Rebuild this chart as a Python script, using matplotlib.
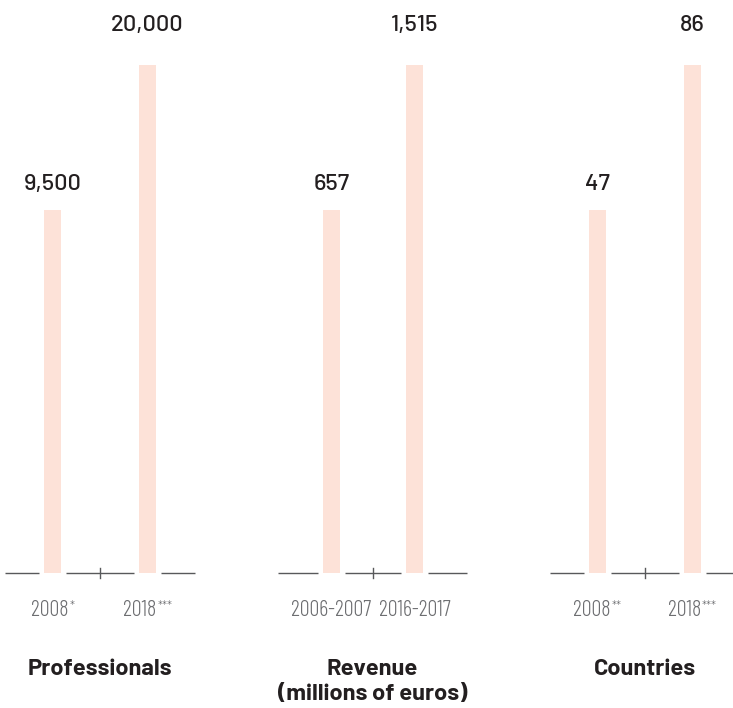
import matplotlib
matplotlib.use("Agg")
import matplotlib.pyplot as plt

# data
categories = ["Professionals", "Revenue\n(millions of euros)", "Countries"]
periods = [["2008", "2018"], ["2006-2007", "2016-2017"], ["2008", "2018"]]
stars = [["*", "***"], ["", ""], ["**", "***"]]
values = [[9500, 20000], [657, 1515], [47, 86]]
# bar heights as drawn (relative, not proportional to the values)
bar_heights = [[0.715, 1.0], [0.715, 1.0], [0.715, 1.0]]

W, H = 733, 708
fig = plt.figure(figsize=(W / 100, H / 100), dpi=100)
renderer = fig.canvas.get_renderer()

bar_color = "#fde2d8"
line_color = "#58595b"
text_dark = "#231f20"
tick_grey = "#6d6e71"

# panel layout in pixels: axes left, width, xlim
panel_left = [5, 278, 550]
panel_width = [190, 189, 190]
panel_xlim = [(-0.5, 1.5), (-0.645, 1.632), (-0.5, 1.5)]
base_y = 573
top_y = 65
label_off = [20, 34]

tick_font = dict(family=["Barlow Condensed", "DejaVu Sans"], fontweight=300,
                 color=tick_grey)

for p in range(3):
    ax = fig.add_axes([panel_left[p] / W, (H - base_y) / H,
                       panel_width[p] / W, (base_y - top_y) / H])
    ax.set_xlim(*panel_xlim[p])
    ax.set_ylim(0, 1)
    ax.axis("off")
    ppu = panel_width[p] / (panel_xlim[p][1] - panel_xlim[p][0])
    bw = 17 / ppu
    gap = 5 / ppu
    x = [0, 1]
    ax.bar(x, bar_heights[p], width=bw, color=bar_color, zorder=1)

    # baseline pieces around bars, small tick in the middle
    x0, x1 = panel_xlim[p]
    segs = [(x0, -bw / 2 - gap), (bw / 2 + gap, 1 - bw / 2 - gap), (1 + bw / 2 + gap, x1)]
    for a, b in segs:
        ax.plot([a, b], [0, 0], color=line_color, lw=1, clip_on=False, solid_capstyle="butt")
    tick = 5 / (base_y - top_y)
    ax.plot([0.5, 0.5], [-tick, tick], color=line_color, lw=1, clip_on=False)

    for i in range(2):
        ax.annotate(f"{values[p][i]:,}", xy=(x[i], bar_heights[p][i]),
                    xytext=(0, label_off[i]), textcoords="offset pixels",
                    ha="center", va="baseline", fontsize=17, color=text_dark,
                    family=["Barlow", "DejaVu Sans"], fontweight=500,
                    annotation_clip=False)

        # period label, with small raised asterisks after it
        st = stars[p][i]
        sw = 0
        if st:
            tmp = ax.text(0, 0, st, fontsize=10, **tick_font)
            sw = tmp.get_window_extent(renderer).width + 1
            tmp.remove()
        t = ax.annotate(periods[p][i], xy=(x[i], 0), xytext=(-sw / 2, -43),
                        textcoords="offset pixels", ha="center", va="baseline",
                        fontsize=16, annotation_clip=False, **tick_font)
        if st:
            tw = t.get_window_extent(renderer).width
            ax.annotate(st, xy=(x[i], 0), xytext=(-sw / 2 + tw / 2 + 1, -37),
                        textcoords="offset pixels", ha="left", va="baseline",
                        fontsize=10, annotation_clip=False, **tick_font)

    cx = panel_left[p] + panel_width[p] / 2
    for k, line in enumerate(categories[p].split("\n")):
        fig.text(cx / W, 1 - (675 + 25 * k) / H, line, ha="center", va="baseline",
                 fontsize=17, fontweight="bold", color=text_dark,
                 family=["Barlow", "DejaVu Sans"])

fig.savefig("out.png", dpi=100)
